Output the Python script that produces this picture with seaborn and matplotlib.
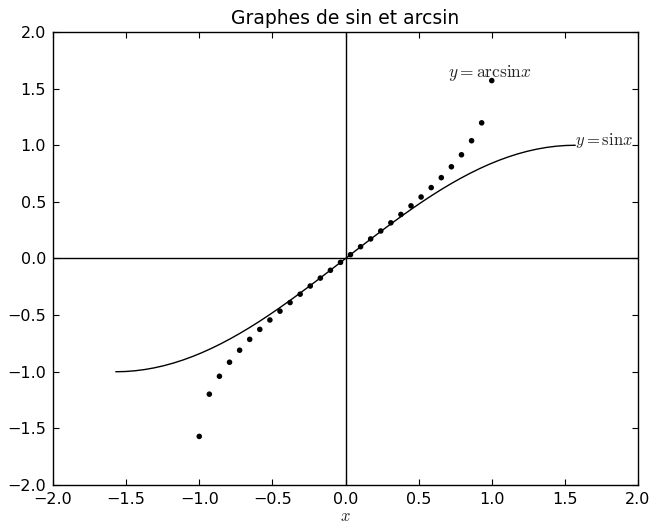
import numpy as np
import pandas as pd
import seaborn as sns
import matplotlib.pyplot as plt

# sin curve (x from -pi/2 to pi/2)
sin_x = [-1.5708, -1.5053, -1.4399, -1.3744, -1.3090, -1.2435, -1.1781, -1.1126,
         -1.0472, -0.9817, -0.9163, -0.8508, -0.7854, -0.7199, -0.6545, -0.5890,
         -0.5236, -0.4581, -0.3927, -0.3272, -0.2618, -0.1963, -0.1309, -0.0654,
         0.0000, 0.0654, 0.1309, 0.1963, 0.2618, 0.3272, 0.3927, 0.4581,
         0.5236, 0.5890, 0.6545, 0.7199, 0.7854, 0.8508, 0.9163, 0.9817,
         1.0472, 1.1126, 1.1781, 1.2435, 1.3090, 1.3744, 1.4399, 1.5053, 1.5708]
sin_y = [-1.0000, -0.9979, -0.9914, -0.9808, -0.9659, -0.9469, -0.9239, -0.8969,
         -0.8660, -0.8315, -0.7934, -0.7518, -0.7071, -0.6593, -0.6088, -0.5556,
         -0.5000, -0.4423, -0.3827, -0.3214, -0.2588, -0.1951, -0.1305, -0.0654,
         0.0000, 0.0654, 0.1305, 0.1951, 0.2588, 0.3214, 0.3827, 0.4423,
         0.5000, 0.5556, 0.6088, 0.6593, 0.7071, 0.7518, 0.7934, 0.8315,
         0.8660, 0.8969, 0.9239, 0.9469, 0.9659, 0.9808, 0.9914, 0.9979, 1.0000]

# arcsin points
asin_x = [-1.000, -0.931, -0.862, -0.793, -0.724, -0.655, -0.586, -0.517, -0.448,
          -0.379, -0.310, -0.241, -0.172, -0.103, -0.034, 0.034, 0.103, 0.172,
          0.241, 0.310, 0.379, 0.448, 0.517, 0.586, 0.655, 0.724, 0.793, 0.862,
          0.931, 1.000]
asin_y = [-1.571, -1.198, -1.040, -0.916, -0.810, -0.714, -0.626, -0.543, -0.465,
          -0.389, -0.315, -0.243, -0.173, -0.104, -0.034, 0.034, 0.104, 0.173,
          0.243, 0.315, 0.389, 0.465, 0.543, 0.626, 0.714, 0.810, 0.916, 1.040,
          1.198, 1.571]

sns.set_style("ticks", {"xtick.direction": "in", "ytick.direction": "in",
                        "axes.edgecolor": "black"})
plt.rcParams["font.family"] = ["DejaVu Sans"]
plt.rcParams["mathtext.fontset"] = "cm"
plt.rcParams["xtick.top"] = True
plt.rcParams["ytick.right"] = True

fig = plt.figure(figsize=(6.51, 5.25), dpi=100)
ax = fig.add_axes([53 / 651, 40 / 525, 585 / 651, 453 / 525])

sin_df = pd.DataFrame({"x": sin_x, "y": sin_y})
asin_df = pd.DataFrame({"x": asin_x, "y": asin_y})

sns.lineplot(data=sin_df, x="x", y="y", color="black", linewidth=1.0, sort=False, ax=ax)
sns.scatterplot(data=asin_df, x="x", y="y", color="black", s=16, edgecolor="none", ax=ax)

ax.axhline(0, color="black", linewidth=1)
ax.axvline(0, color="black", linewidth=1)

ax.text(0.7, 1.6, r"$y=\mathrm{arcsin}x$", fontsize=12.5)
ax.text(1.57, 1.0, r"$y=\mathrm{sin}x$", fontsize=12)

ax.set_xlim(-2, 2)
ax.set_ylim(-2, 2)
ax.set_xticks(np.arange(-2, 2.01, 0.5))
ax.set_yticks(np.arange(-2, 2.01, 0.5))
ax.tick_params(labelsize=11.5, length=4, width=0.8, pad=5, colors="black")
for s in ax.spines.values():
    s.set_linewidth(1)
ax.set_xlabel("$x$", fontsize=12, labelpad=0)
ax.set_ylabel("")
ax.set_title("Graphes de sin et arcsin", fontsize=13.5, color="black")

fig.savefig("out.png", dpi=100)
